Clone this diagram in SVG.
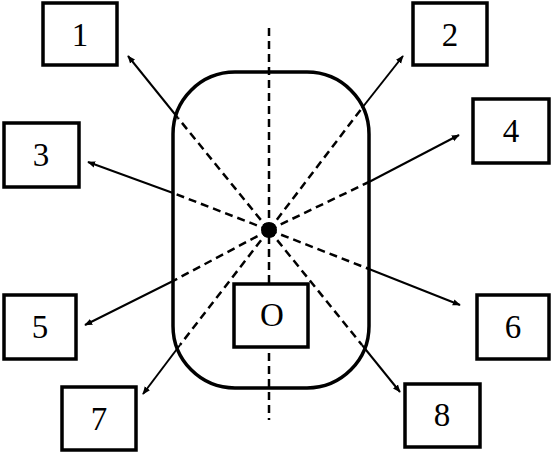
<svg xmlns="http://www.w3.org/2000/svg" width="552" height="452" viewBox="0 0 552 452">
<style>
.box{fill:#fff;stroke:#000;stroke-width:3.5}
.lbl{font-family:"Liberation Serif","Times New Roman",serif;font-size:33px;fill:#000;text-anchor:middle;dominant-baseline:central}
.dash{stroke:#000;stroke-width:2.5;stroke-dasharray:8,5;fill:none}
.solid{stroke:#000;stroke-width:2;fill:none}
</style>
<defs>
<marker id="ah" viewBox="0 0 10 10" refX="9" refY="5" markerWidth="4" markerHeight="4" orient="auto" markerUnits="strokeWidth">
<path d="M0,1 L10,5 L0,9 Z" fill="#000"/>
</marker>
</defs>
<rect x="0" y="0" width="552" height="452" fill="#fff"/>
<g id="body">
<rect x="173" y="72" width="196" height="316" rx="62" ry="62" fill="none" stroke="#000" stroke-width="3.5"/>
</g>
<g id="connectors">
<line class="dash" x1="269" y1="28" x2="269" y2="420"/>
<line class="dash" x1="269" y1="230" x2="178" y2="118"/>
<line class="solid" x1="178" y1="118" x2="128" y2="56" marker-end="url(#ah)"/>
<line class="dash" x1="269" y1="230" x2="362" y2="108"/>
<line class="solid" x1="362" y1="108" x2="403" y2="56" marker-end="url(#ah)"/>
<line class="dash" x1="269" y1="230" x2="173" y2="193"/>
<line class="solid" x1="173" y1="193" x2="88" y2="162" marker-end="url(#ah)"/>
<line class="dash" x1="269" y1="230" x2="369" y2="182"/>
<line class="solid" x1="369" y1="182" x2="459" y2="135" marker-end="url(#ah)"/>
<line class="dash" x1="269" y1="230" x2="173" y2="281"/>
<line class="solid" x1="173" y1="281" x2="85" y2="325" marker-end="url(#ah)"/>
<line class="dash" x1="269" y1="230" x2="369" y2="269"/>
<line class="solid" x1="369" y1="269" x2="460" y2="305" marker-end="url(#ah)"/>
<line class="dash" x1="269" y1="230" x2="180" y2="345"/>
<line class="solid" x1="180" y1="345" x2="143" y2="394" marker-end="url(#ah)"/>
<line class="dash" x1="269" y1="230" x2="362" y2="345"/>
<line class="solid" x1="362" y1="345" x2="400" y2="392" marker-end="url(#ah)"/>
</g>
<g id="center"><circle cx="269" cy="230" r="8" fill="#000"/></g>
<g id="nodeO"><rect class="box" x="234" y="284" width="74" height="63"/><text class="lbl" x="272" y="315">O</text></g>
<g id="node1"><rect class="box" x="43" y="3" width="74" height="62"/><text class="lbl" x="80" y="35">1</text></g>
<g id="node2"><rect class="box" x="413" y="3" width="74" height="62"/><text class="lbl" x="450" y="35">2</text></g>
<g id="node3"><rect class="box" x="4" y="123" width="75" height="64"/><text class="lbl" x="41" y="155">3</text></g>
<g id="node4"><rect class="box" x="473" y="99" width="76" height="64"/><text class="lbl" x="511" y="131">4</text></g>
<g id="node5"><rect class="box" x="4" y="295" width="72" height="64"/><text class="lbl" x="40" y="327">5</text></g>
<g id="node6"><rect class="box" x="477" y="295" width="72" height="64"/><text class="lbl" x="513" y="327">6</text></g>
<g id="node7"><rect class="box" x="62" y="387" width="74" height="63"/><text class="lbl" x="99" y="419">7</text></g>
<g id="node8"><rect class="box" x="405" y="384" width="75" height="63"/><text class="lbl" x="442" y="415">8</text></g>
</svg>
